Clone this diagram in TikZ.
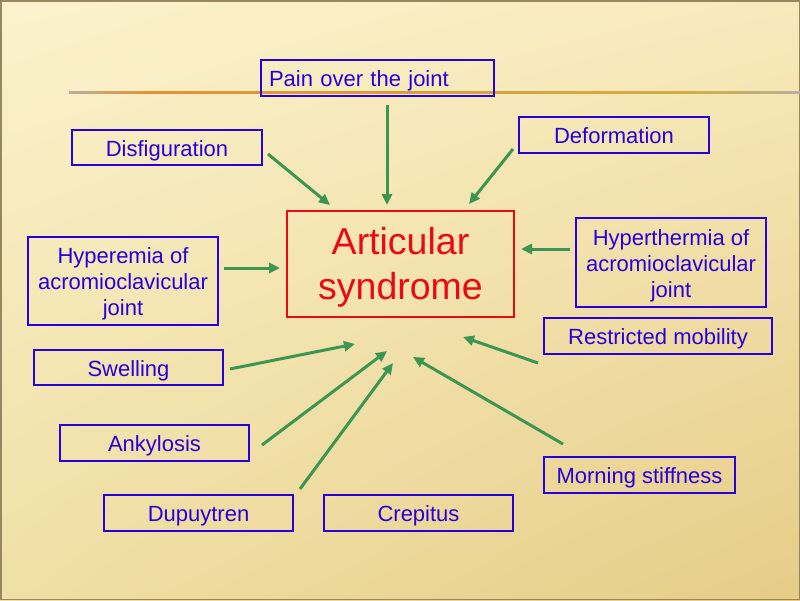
\documentclass[tikz,border=0pt]{standalone}
\usepackage{fontspec}
\setmainfont{Liberation Sans}
\usetikzlibrary{arrows.meta,shadings}
\definecolor{bluetxt}{RGB}{40,0,220}
\definecolor{redtxt}{RGB}{235,10,20}
\definecolor{arrowgreen}{RGB}{58,150,80}
\definecolor{bgtl}{RGB}{251,242,205}
\definecolor{bgtr}{RGB}{248,234,188}
\definecolor{bgbl}{RGB}{240,224,165}
\definecolor{bgbr}{RGB}{230,204,135}
\definecolor{linegray}{RGB}{185,175,160}
\definecolor{lineorange}{RGB}{232,145,45}
\definecolor{lineolive}{RGB}{205,175,70}
\definecolor{framecol}{RGB}{150,135,95}
\begin{document}
\begin{tikzpicture}[x=1pt,y=-1pt,
  bx/.style={draw=bluetxt, line width=2pt, text=bluetxt,
    font=\fontsize{22}{26}\selectfont, align=center, inner sep=0pt,
    text height=17.5pt, text depth=0pt},
  bxthree/.style={bx, text height=69pt, text depth=0pt},
  redbx/.style={draw=redtxt, line width=2.5pt, text=redtxt,
    font=\fontsize{37.5}{45}\selectfont, align=center, inner sep=0pt,
    text height=71pt, text depth=0.5pt},
  ar/.style={draw=arrowgreen, line width=3pt,
    -{Triangle[length=11pt,width=10pt]}}]
\useasboundingbox (0,0) rectangle (800,600);
% background
\shade[upper left=bgtl, upper right=bgtr, lower left=bgbl, lower right=bgbr]
  (0,0) rectangle (800,600);
\draw[framecol, line width=1.5pt] (0.75,0.75) rectangle (799.25,599.25);
% horizontal rule
\shade[left color=linegray, right color=lineorange] (69,91) rectangle (150,93.5);
\shade[left color=lineorange, right color=lineolive] (150,91) rectangle (700,93.5);
\shade[left color=lineolive, right color=linegray] (700,91) rectangle (800,93.5);
% boxes
\node[bx, minimum width=233pt, minimum height=36pt, text width=217pt, align=left]
  (pain) at (377.5,78) {Pain over the joint};
\node[bx, minimum width=190pt, minimum height=35pt] (disf) at (167,147.5) {Disfiguration};
\node[bx, minimum width=190pt, minimum height=36pt] (deform) at (614,135) {Deformation};
\node[redbx, minimum width=227pt, minimum height=106pt] (artic) at (400.5,264)
  {Articular\\syndrome};
\node[bxthree, minimum width=190pt, minimum height=88pt] (hyperemia) at (123,281)
  {Hyperemia of\\acromioclavicular\\joint};
\node[bxthree, minimum width=190pt, minimum height=89pt] (hypertherm) at (671,262.5)
  {Hyperthermia of\\acromioclavicular\\joint};
\node[bx, minimum width=228pt, minimum height=36pt] (restr) at (658,336) {Restricted mobility};
\node[bx, minimum width=189pt, minimum height=35pt] (swell) at (128.5,367.5) {Swelling};
\node[bx, minimum width=189pt, minimum height=36pt] (ankyl) at (154.5,443) {Ankylosis};
\node[bx, minimum width=191pt, minimum height=36pt] (morning) at (639.5,475) {Morning stiffness};
\node[bx, minimum width=189pt, minimum height=36pt] (dupuy) at (198.5,513) {Dupuytren};
\node[bx, minimum width=189pt, minimum height=36pt] (crepit) at (418.5,513) {Crepitus};
% arrow end points
\coordinate (painT) at (387,105);   \coordinate (painH) at (387,205);
\coordinate (disfT) at (268,154);   \coordinate (disfH) at (330,205);
\coordinate (deformT) at (513,149); \coordinate (deformH) at (469,204);
\coordinate (hypemT) at (224,268);  \coordinate (hypemH) at (280,268);
\coordinate (hypthT) at (570,249);  \coordinate (hypthH) at (521,249);
\coordinate (restrT) at (538,363);  \coordinate (restrH) at (463,337);
\coordinate (swellT) at (230,369);  \coordinate (swellH) at (355,344);
\coordinate (ankylT) at (262,445);  \coordinate (ankylH) at (387,351);
\coordinate (dupuyT) at (300,489);  \coordinate (dupuyH) at (393,363);
\coordinate (mornT) at (563,444);   \coordinate (mornH) at (413,357);
% arrows
\draw[ar] (painT) -- (painH);
\draw[ar] (disfT) -- (disfH);
\draw[ar] (deformT) -- (deformH);
\draw[ar] (hypemT) -- (hypemH);
\draw[ar] (hypthT) -- (hypthH);
\draw[ar] (restrT) -- (restrH);
\draw[ar] (swellT) -- (swellH);
\draw[ar] (ankylT) -- (ankylH);
\draw[ar] (dupuyT) -- (dupuyH);
\draw[ar] (mornT) -- (mornH);
\end{tikzpicture}
\end{document}
